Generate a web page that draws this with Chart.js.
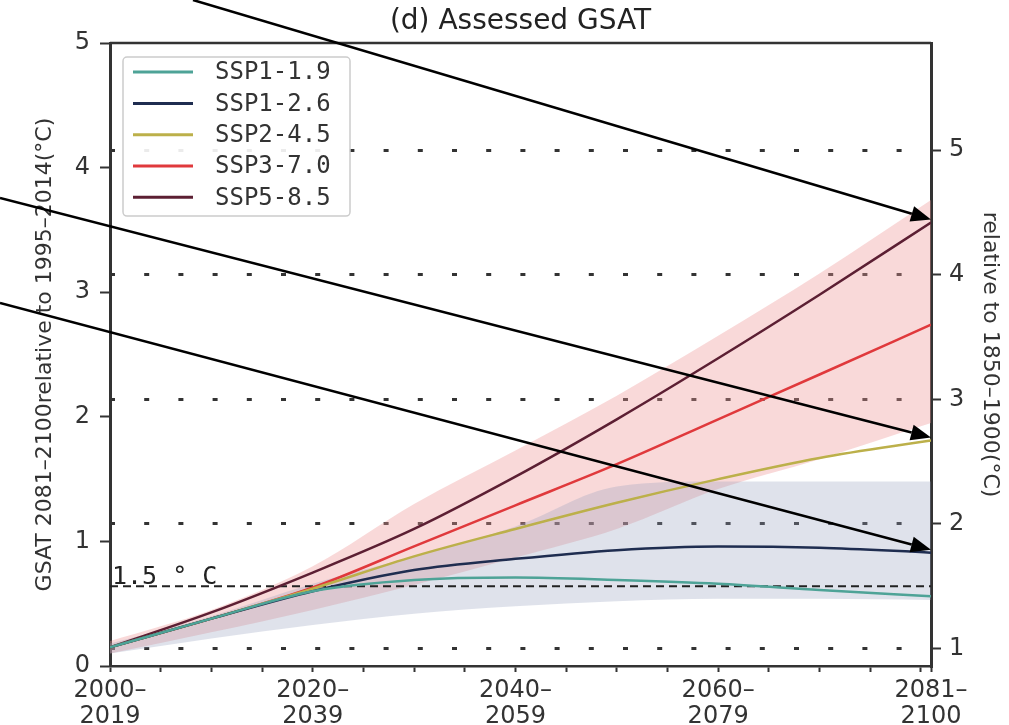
<!DOCTYPE html>
<html>
<head>
<meta charset="utf-8">
<script src="https://cdn.jsdelivr.net/npm/chart.js@4.4.1/dist/chart.umd.min.js"></script>
<style>
  body { margin: 0; background: #fff; }
  #contenedor { width: 1009px; height: 725px; }
</style>
</head>
<body>
<div id="contenedor"><canvas id="grafico" width="1009" height="725"></canvas></div>
<script>
// años de inicio de cada periodo de 20 años
const anios = [2000, 2010, 2020, 2030, 2040, 2050, 2060, 2070, 2081];

// GSAT relativo a 1995-2014 (°C)
const ssp119 = [0.15, 0.38, 0.60, 0.69, 0.71, 0.69, 0.66, 0.61, 0.56];
const ssp126 = [0.15, 0.38, 0.60, 0.77, 0.86, 0.93, 0.96, 0.95, 0.91];
const ssp245 = [0.15, 0.38, 0.62, 0.88, 1.10, 1.31, 1.50, 1.67, 1.81];
const ssp370 = [0.15, 0.38, 0.63, 0.96, 1.29, 1.62, 1.98, 2.34, 2.74];
const ssp585 = [0.15, 0.43, 0.75, 1.10, 1.52, 1.98, 2.47, 2.98, 3.56];

// rangos sombreados
const rangoRojoAlto = [0.20, 0.45, 0.80, 1.30, 1.73, 2.17, 2.65, 3.15, 3.74];
const rangoRojoBajo = [0.10, 0.27, 0.45, 0.65, 0.87, 1.10, 1.42, 1.66, 1.95];
const rangoAzulAlto = [0.18, 0.40, 0.66, 0.88, 1.12, 1.44, 1.48, 1.48, 1.48];
const rangoAzulBajo = [0.10, 0.22, 0.33, 0.42, 0.48, 0.52, 0.54, 0.54, 0.53];

const nombres = ['SSP1-1.9', 'SSP1-2.6', 'SSP2-4.5', 'SSP3-7.0', 'SSP5-8.5'];
const series = [ssp119, ssp126, ssp245, ssp370, ssp585];
const colores = ['#4ea397', '#1f2d50', '#bcb04a', '#e0393c', '#5c1f33'];

// ejes
const ticksIzq = [0, 1, 2, 3, 4, 5];
const ticksDer = [1, 2, 3, 4, 5];
const desfase = 0.86; // 1850-1900 -> 1995-2014
const ticksX = [2000, 2005, 2010, 2015, 2020, 2025, 2030, 2035, 2040, 2045,
                2050, 2055, 2060, 2065, 2070, 2075, 2080, 2081];
const aniosMayores = [2000, 2020, 2040, 2060, 2081];
const periodos = [['2000–', '2019'], ['2020–', '2039'], ['2040–', '2059'], ['2060–', '2079'], ['2081–', '2100']];
const umbral = 1.5;

const aPuntos = (valores) => anios.map((x, i) => ({ x: x, y: valores[i] }));

// flechas de anotación: serie a la que apuntan y punto de salida en el lienzo
const flechas = [
    { serie: 4, desde: [193, 0] },
    { serie: 2, desde: [0, 198] },
    { serie: 1, desde: [0, 303] }
];

const datasets = series.map((valores, i) => ({
    label: nombres[i],
    data: aPuntos(valores),
    borderColor: colores[i],
    borderWidth: 2.5,
    pointRadius: 0,
    cubicInterpolationMode: 'monotone',
    fill: false,
    yAxisID: 'y',
    order: 1
}));

datasets.push({
    label: '1.5 °C',
    data: [{ x: anios[0], y: umbral }, { x: anios[anios.length - 1], y: umbral }],
    borderColor: '#222',
    borderWidth: 2,
    borderDash: [8, 5],
    pointRadius: 0,
    fill: false,
    yAxisID: 'y2',
    order: 2
});

const banda = (valores, relleno, color, orden) => ({
    label: '',
    data: aPuntos(valores),
    borderColor: 'transparent',
    borderWidth: 0,
    pointRadius: 0,
    cubicInterpolationMode: 'monotone',
    fill: relleno,
    backgroundColor: color,
    yAxisID: 'y',
    order: orden
});

datasets.push(banda(rangoRojoAlto, '+1', 'rgba(238,150,150,0.36)', 4));
datasets.push(banda(rangoRojoBajo, false, 'transparent', 4));
datasets.push(banda(rangoAzulAlto, '+1', 'rgba(150,158,188,0.30)', 3));
datasets.push(banda(rangoAzulBajo, false, 'transparent', 3));

const extras = {
    id: 'extras',
    afterDatasetsDraw(chart) {
        const { ctx, chartArea } = chart;
        ctx.save();
        ctx.strokeStyle = '#333';
        ctx.lineWidth = 2.5;
        ctx.beginPath();
        ctx.moveTo(chartArea.left, chartArea.top);
        ctx.lineTo(chartArea.right, chartArea.top);
        ctx.stroke();
        ctx.restore();
    },
    afterDraw(chart) {
        const { ctx, chartArea, scales } = chart;
        ctx.save();

        // etiqueta del umbral
        ctx.fillStyle = '#222';
        ctx.font = '25px "DejaVu Sans Mono"';
        ctx.textAlign = 'left';
        ctx.textBaseline = 'alphabetic';
        ctx.fillText('1.5 ° C', chartArea.left + 2, scales.y2.getPixelForValue(umbral) - 2);

        // leyenda
        const x0 = chartArea.left + 13, y0 = chartArea.top + 14;
        ctx.fillStyle = 'rgba(255,255,255,0.9)';
        ctx.strokeStyle = '#cccccc';
        ctx.lineWidth = 1.5;
        ctx.beginPath();
        ctx.roundRect(x0, y0, 227, 159, 4);
        ctx.fill();
        ctx.stroke();
        ctx.font = '24px "DejaVu Sans Mono"';
        ctx.textBaseline = 'middle';
        nombres.forEach((nombre, i) => {
            const yy = y0 + 15 + i * 31.3;
            ctx.strokeStyle = colores[i];
            ctx.lineWidth = 3;
            ctx.beginPath();
            ctx.moveTo(x0 + 10, yy);
            ctx.lineTo(x0 + 70, yy);
            ctx.stroke();
            ctx.fillStyle = '#333';
            ctx.fillText(nombre, x0 + 92, yy + 1);
        });

        // flechas
        ctx.strokeStyle = '#000';
        ctx.fillStyle = '#000';
        ctx.lineWidth = 2.5;
        flechas.forEach(f => {
            const valores = series[f.serie];
            const tx = scales.x.getPixelForValue(anios[anios.length - 1]);
            const ty = scales.y.getPixelForValue(valores[valores.length - 1]) - 3;
            const [sx, sy] = f.desde;
            const ang = Math.atan2(ty - sy, tx - sx);
            const largo = 20, ancho = 8;
            const bx = tx - largo * Math.cos(ang), by = ty - largo * Math.sin(ang);
            ctx.beginPath();
            ctx.moveTo(sx, sy);
            ctx.lineTo(bx, by);
            ctx.stroke();
            ctx.beginPath();
            ctx.moveTo(tx, ty);
            ctx.lineTo(bx + ancho * Math.sin(ang), by - ancho * Math.cos(ang));
            ctx.lineTo(bx - ancho * Math.sin(ang), by + ancho * Math.cos(ang));
            ctx.closePath();
            ctx.fill();
        });
        ctx.restore();
    }
};

const ctx = document.getElementById('grafico').getContext('2d');
new Chart(ctx, {
    type: 'line',
    data: { datasets: datasets },
    plugins: [extras],
    options: {
        responsive: false,
        animation: false,
        layout: { padding: { left: 32, right: 0, top: 0, bottom: 0 } },
        plugins: {
            legend: { display: false },
            tooltip: { enabled: false },
            title: {
                display: true,
                text: '(d) Assessed GSAT',
                color: '#222',
                font: { family: 'DejaVu Sans', size: 28, weight: 'normal' },
                padding: { top: 5, bottom: 4.5 }
            }
        },
        scales: {
            x: {
                type: 'linear',
                min: anios[0],
                max: anios[anios.length - 1],
                afterBuildTicks: (s) => { s.ticks = ticksX.map(v => ({ value: v })); },
                afterFit: (s) => { s.height = 59; },
                ticks: {
                    autoSkip: false,
                    maxRotation: 0,
                    padding: 6,
                    color: '#333',
                    font: { family: 'DejaVu Sans', size: 24, lineHeight: 1.08 },
                    callback: (v) => {
                        const i = aniosMayores.indexOf(v);
                        return i >= 0 ? periodos[i] : '';
                    }
                },
                grid: { drawOnChartArea: false, tickLength: 6, tickWidth: 2, tickColor: '#333' },
                border: { color: '#333', width: 2.5 }
            },
            y: {
                position: 'left',
                min: ticksIzq[0],
                max: ticksIzq[ticksIzq.length - 1],
                afterBuildTicks: (s) => { s.ticks = ticksIzq.map(v => ({ value: v })); },
                afterFit: (s) => { s.width = 78; },
                ticks: {
                    padding: 10,
                    color: '#333',
                    font: { family: 'DejaVu Sans', size: 24 }
                },
                grid: { drawOnChartArea: false, tickLength: 10, tickWidth: 2, tickColor: '#333' },
                border: { color: '#333', width: 3 },
                title: {
                    display: true,
                    text: 'GSAT 2081–2100relative to 1995–2014(°C)',
                    color: '#333',
                    font: { family: 'DejaVu Sans', size: 22 },
                    padding: { top: 0, bottom: 0 }
                }
            },
            y2: {
                position: 'right',
                min: ticksIzq[0] + desfase,
                max: ticksIzq[ticksIzq.length - 1] + desfase,
                afterBuildTicks: (s) => { s.ticks = ticksDer.map(v => ({ value: v })); },
                afterFit: (s) => { s.width = 78; },
                ticks: {
                    padding: 8,
                    color: '#333',
                    font: { family: 'DejaVu Sans', size: 24 }
                },
                grid: {
                    drawOnChartArea: true,
                    color: '#333',
                    lineWidth: 3,
                    tickLength: 10,
                    tickWidth: 2,
                    tickColor: '#333',
                    tickBorderDash: []
                },
                border: { color: '#333', width: 3, dash: [5, 29.2] },
                title: {
                    display: true,
                    text: 'relative to 1850–1900(°C)',
                    color: '#333',
                    font: { family: 'DejaVu Sans', size: 22 },
                    padding: { top: 6, bottom: 0 }
                }
            }
        }
    }
});
</script>
</body>
</html>
